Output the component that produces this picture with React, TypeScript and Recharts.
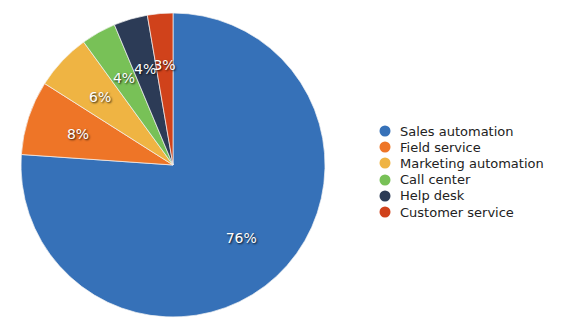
import React from 'react';
import { PieChart, Pie, Cell, Legend } from 'recharts';

const categories = ['Sales automation', 'Field service', 'Marketing automation', 'Call center', 'Help desk', 'Customer service'];
const values = [76.1, 7.9, 6.0, 3.7, 3.6, 2.7];
const colors = ['#3671B8', '#EE7527', '#EFB443', '#78C157', '#2C3B56', '#D0421B'];

const data = categories.map((name, i) => ({ name, value: values[i] }));

const RADIAN = Math.PI / 180;

const renderLabel = (props: any) => {
  const { cx, cy, midAngle, value } = props;
  const r = 100;
  const x = cx + r * Math.cos(-midAngle * RADIAN);
  const y = cy + r * Math.sin(-midAngle * RADIAN);
  return (
    <text
      x={x}
      y={y}
      fill="#ffffff"
      textAnchor="middle"
      dominantBaseline="central"
      fontSize={14}
      fontFamily="DejaVu Sans, Verdana, sans-serif"
      style={{ textShadow: '1px 1px 2px rgba(0,0,0,0.85)' }}
    >
      {Math.round(value) + '%'}
    </text>
  );
};

const renderLegend = () => (
  <div style={{ fontFamily: 'DejaVu Sans, Verdana, sans-serif', fontSize: 13, color: '#222' }}>
    {categories.map((c, i) => (
      <div key={c} style={{ display: 'flex', alignItems: 'center', height: 16.2 }}>
        <svg width={12} height={12} style={{ marginRight: 9 }}>
          <circle cx={6} cy={6} r={5.5} fill={colors[i]} />
        </svg>
        <span>{c}</span>
      </div>
    ))}
  </div>
);

export default function App() {
  return (
    <div style={{ position: 'absolute', left: 0, top: 0, width: 580, height: 331, background: '#fff' }}>
      <PieChart width={580} height={331} margin={{ top: 0, right: 0, bottom: 0, left: 0 }}>
        <Pie
          data={data}
          dataKey="value"
          nameKey="name"
          cx={173}
          cy={165}
          outerRadius={152}
          startAngle={90}
          endAngle={-270}
          stroke="#f4f4f4"
          strokeWidth={0.7}
          label={renderLabel}
          labelLine={false}
          isAnimationActive={false}
        >
          {data.map((d, i) => (
            <Cell key={d.name} fill={colors[i]} />
          ))}
        </Pie>
        <Legend
          content={renderLegend}
          layout="vertical"
          wrapperStyle={{ position: 'absolute', left: 379, top: 123, width: 200 }}
        />
      </PieChart>
    </div>
  );
}
